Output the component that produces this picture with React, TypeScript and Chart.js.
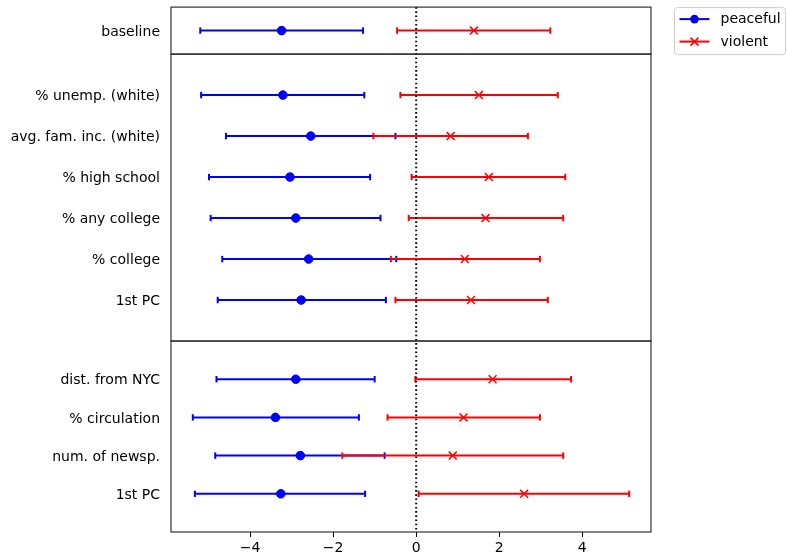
import React, { useEffect, useRef } from 'react';
import { Chart, registerables } from 'chart.js';

Chart.register(...registerables);

// ---- data ----
const rowLabels = [
  'baseline',
  '% unemp. (white)',
  'avg. fam. inc. (white)',
  '% high school',
  '% any college',
  '% college',
  '1st PC',
  'dist. from NYC',
  '% circulation',
  'num. of newsp.',
  '1st PC',
];
const rowPanel = [0, 1, 1, 1, 1, 1, 1, 2, 2, 2, 2];
const panelRowCounts = [1, 6, 4];

const peacefulEst = [-3.24, -3.21, -2.54, -3.04, -2.9, -2.59, -2.77, -2.9, -3.39, -2.79, -3.26];
const peacefulLo = [-5.2, -5.18, -4.58, -4.99, -4.95, -4.67, -4.78, -4.81, -5.38, -4.84, -5.33];
const peacefulHi = [-1.28, -1.25, -0.5, -1.11, -0.86, -0.48, -0.73, -1.0, -1.38, -0.76, -1.23];

const violentEst = [1.39, 1.51, 0.83, 1.75, 1.67, 1.17, 1.32, 1.84, 1.14, 0.88, 2.6];
const violentLo = [-0.46, -0.38, -1.03, -0.11, -0.18, -0.61, -0.5, -0.02, -0.69, -1.78, 0.06];
const violentHi = [3.23, 3.41, 2.69, 3.59, 3.54, 2.98, 3.17, 3.73, 2.98, 3.54, 5.13];

const xTickValues = [-4, -2, 0, 2, 4];
const xMin = -5.905;
const xMax = 5.655;
const seriesNames = ['peaceful', 'violent'];

// ---- helpers ----
const rowPos: number[] = rowPanel.map((p, i) => rowPanel.slice(0, i).filter((q) => q === p).length + 1);
const panelLabels = panelRowCounts.map((_, p) => rowLabels.filter((_, i) => rowPanel[i] === p));

const FONT = 'DejaVu Sans';
const BLUE = '#0000ff';
const RED = '#ff0000';

const framePlugin = {
  id: 'frameAndRef',
  afterDatasetsDraw(chart: any) {
    const { ctx, chartArea, scales } = chart;
    const x0 = scales.x.getPixelForValue(0);
    ctx.save();
    ctx.strokeStyle = '#000';
    ctx.lineWidth = 2;
    ctx.setLineDash([1.6, 2.6]);
    ctx.beginPath();
    ctx.moveTo(x0, chartArea.top);
    ctx.lineTo(x0, chartArea.bottom);
    ctx.stroke();
    ctx.setLineDash([]);
    ctx.lineWidth = 1.1;
    ctx.strokeStyle = '#222';
    ['y0', 'y1', 'y2'].forEach((id) => {
      const s = scales[id];
      ctx.strokeRect(chartArea.left, s.top, chartArea.right - chartArea.left, s.bottom - s.top);
    });
    ctx.restore();
  },
};

const legendPlugin = {
  id: 'mplLegend',
  afterDraw(chart: any) {
    const { ctx, chartArea } = chart;
    const bx = chartArea.right + 23.5;
    const by = chartArea.top + 0.5;
    const bw = 111;
    const bh = 47;
    ctx.save();
    ctx.beginPath();
    ctx.roundRect(bx, by, bw, bh, 3);
    ctx.fillStyle = 'rgba(255,255,255,0.8)';
    ctx.fill();
    ctx.strokeStyle = '#cccccc';
    ctx.lineWidth = 1;
    ctx.stroke();
    const colors = [BLUE, RED];
    seriesNames.forEach((name, k) => {
      const y = by + 11.5 + k * 22.5;
      const lx0 = bx + 5;
      const lx1 = bx + 35;
      const cx = (lx0 + lx1) / 2;
      ctx.strokeStyle = colors[k];
      ctx.lineWidth = 2;
      ctx.beginPath();
      ctx.moveTo(lx0, y);
      ctx.lineTo(lx1, y);
      ctx.stroke();
      if (k === 0) {
        ctx.fillStyle = colors[k];
        ctx.beginPath();
        ctx.arc(cx, y, 4.3, 0, Math.PI * 2);
        ctx.fill();
      } else {
        const r = 4;
        ctx.lineWidth = 1.5;
        ctx.beginPath();
        ctx.moveTo(cx - r, y - r);
        ctx.lineTo(cx + r, y + r);
        ctx.moveTo(cx - r, y + r);
        ctx.lineTo(cx + r, y - r);
        ctx.stroke();
      }
      ctx.fillStyle = '#000';
      ctx.font = `14px "${FONT}"`;
      ctx.textBaseline = 'middle';
      ctx.textAlign = 'left';
      ctx.fillText(name, bx + 46, y + 0.5);
    });
    ctx.restore();
  },
};

export default function App() {
  const ref = useRef<HTMLCanvasElement | null>(null);

  useEffect(() => {
    if (!ref.current) return;
    const datasets: any[] = [];
    const series = [
      { est: peacefulEst, lo: peacefulLo, hi: peacefulHi, color: BLUE, style: 'circle', r: 4.3, bw: 1, order: 2 },
      { est: violentEst, lo: violentLo, hi: violentHi, color: RED, style: 'crossRot', r: 5.6, bw: 1.5, order: 0 },
    ];
    series.forEach((s) => {
      rowLabels.forEach((_, i) => {
        datasets.push({
          type: 'scatter',
          showLine: true,
          data: [
            { x: s.lo[i], y: rowPos[i] },
            { x: s.hi[i], y: rowPos[i] },
          ],
          yAxisID: 'y' + rowPanel[i],
          borderColor: s.color,
          borderWidth: 2,
          pointStyle: 'line',
          pointRadius: 3.2,
          pointRotation: 90,
          pointBorderColor: s.color,
          pointBorderWidth: 2,
          order: s.order + 1,
        });
      });
      panelRowCounts.forEach((_, p) => {
        datasets.push({
          type: 'scatter',
          data: rowLabels
            .map((_, i) => i)
            .filter((i) => rowPanel[i] === p)
            .map((i) => ({ x: s.est[i], y: rowPos[i] })),
          yAxisID: 'y' + p,
          pointStyle: s.style,
          pointRadius: s.r,
          pointBackgroundColor: s.color,
          pointBorderColor: s.color,
          pointBorderWidth: s.bw,
          showLine: false,
          order: s.order,
        });
      });
    });

    const yScales: any = {};
    const weights = [47, 287, 191];
    panelRowCounts.forEach((n, p) => {
      yScales['y' + p] = {
        type: 'linear',
        position: 'left',
        stack: 'panels',
        stackWeight: weights[p],
        weight: 3 - p,
        reverse: true,
        min: 0,
        max: n + 1,
        grid: { display: false, drawTicks: false },
        border: { display: false },
        afterBuildTicks: (scale: any) => {
          scale.ticks = panelLabels[p].map((_, k) => ({ value: k + 1 }));
        },
        afterFit: (scale: any) => {
          scale.width = 171;
          scale.paddingTop = 0;
          scale.paddingBottom = 0;
        },
        ticks: {
          padding: 11,
          labelOffset: 1.5,
          color: '#000',
          font: { family: FONT, size: 14 },
          callback: (v: any) => panelLabels[p][Math.round(v) - 1] ?? '',
        },
      };
    });

    const chart = new Chart(ref.current, {
      type: 'scatter',
      data: { datasets },
      options: {
        animation: false,
        responsive: false,
        events: [],
        layout: { padding: { top: 7, right: 136, left: 0, bottom: 0 } },
        plugins: { legend: { display: false }, tooltip: { enabled: false } },
        scales: {
          x: {
            type: 'linear',
            position: 'bottom',
            min: xMin,
            max: xMax,
            afterBuildTicks: (scale: any) => {
              scale.ticks = xTickValues.map((v) => ({ value: v }));
            },
            afterFit: (scale: any) => {
              scale.height = 24;
              scale.paddingLeft = 0;
              scale.paddingRight = 0;
            },
            grid: { display: true, drawOnChartArea: false, drawTicks: true, tickLength: 5, color: '#000', lineWidth: 1 },
            border: { display: false },
            ticks: {
              padding: 3,
              color: '#000',
              font: { family: FONT, size: 14 },
              maxRotation: 0,
              callback: (v: any) => (v < 0 ? '\u2212' + Math.abs(v) : String(v)),
            },
          },
          ...yScales,
        },
      },
      plugins: [framePlugin, legendPlugin],
    });
    return () => chart.destroy();
  }, []);

  return (
    <div style={{ position: 'fixed', left: 0, top: 0, width: 787, height: 556, background: '#fff' }}>
      <canvas ref={ref} width={787} height={556} style={{ display: 'block' }} />
    </div>
  );
}
